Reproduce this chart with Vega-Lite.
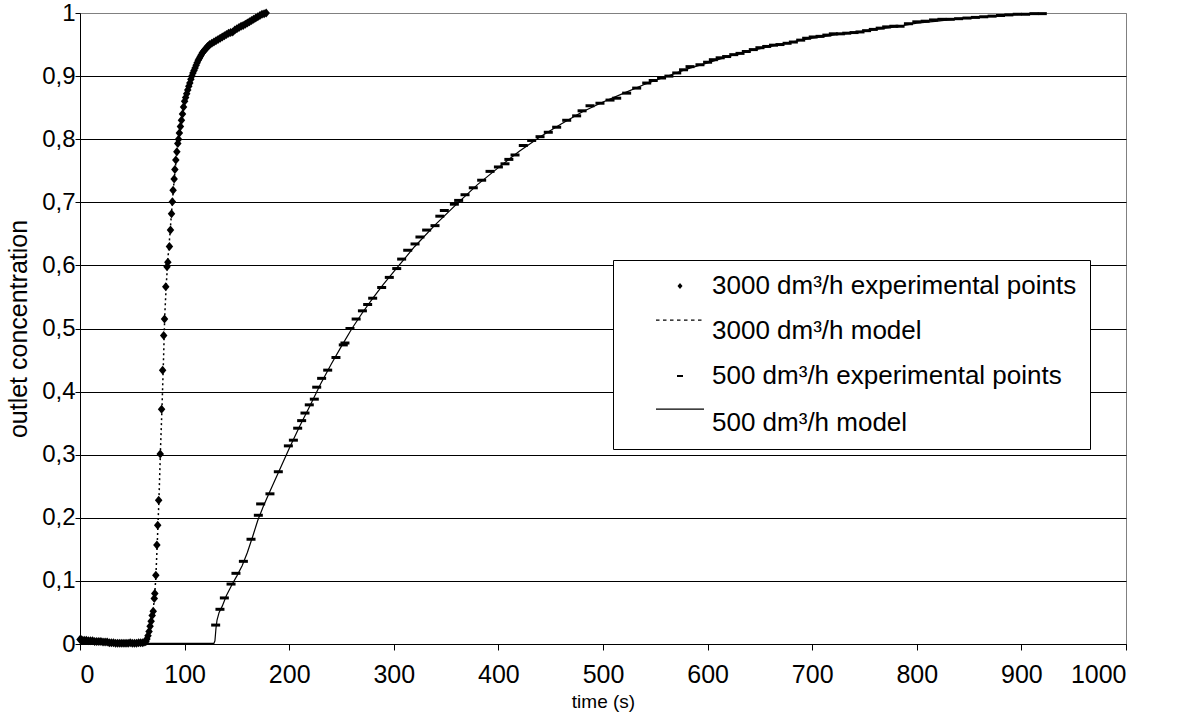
{
  "$schema": "https://vega.github.io/schema/vega-lite/v6.json",
  "width": 1046,
  "height": 631,
  "autosize": {"type": "none"},
  "padding": {"left": 80, "top": 13, "right": 52, "bottom": 75},
  "background": "white",
  "config": {
    "font": "Liberation Sans",
    "view": {"stroke": "#808080", "strokeWidth": 1}
  },
  "datasets": {
    "exp": [
      {"series":"3000 exp","time":0,"conc":0.007},{"series":"3000 exp","time":1,"conc":0.007},{"series":"3000 exp","time":2,"conc":0.006},{"series":"3000 exp","time":4,"conc":0.006},{"series":"3000 exp","time":6,"conc":0.006},{"series":"3000 exp","time":8,"conc":0.005},{"series":"3000 exp","time":10,"conc":0.005},{"series":"3000 exp","time":12,"conc":0.005},{"series":"3000 exp","time":14,"conc":0.004},{"series":"3000 exp","time":16,"conc":0.004},{"series":"3000 exp","time":18,"conc":0.004},{"series":"3000 exp","time":20,"conc":0.004},{"series":"3000 exp","time":22,"conc":0.003},{"series":"3000 exp","time":24,"conc":0.003},{"series":"3000 exp","time":26,"conc":0.003},{"series":"3000 exp","time":28,"conc":0.002},{"series":"3000 exp","time":30,"conc":0.002},{"series":"3000 exp","time":32,"conc":0.002},{"series":"3000 exp","time":34,"conc":0.001},{"series":"3000 exp","time":36,"conc":0.001},{"series":"3000 exp","time":38,"conc":0.001},{"series":"3000 exp","time":40,"conc":0.001},{"series":"3000 exp","time":42,"conc":0.001},{"series":"3000 exp","time":44,"conc":0.001},{"series":"3000 exp","time":46,"conc":0.001},{"series":"3000 exp","time":48,"conc":0.002},{"series":"3000 exp","time":50,"conc":0.001},{"series":"3000 exp","time":52,"conc":0.001},{"series":"3000 exp","time":54,"conc":0.001},{"series":"3000 exp","time":56,"conc":0.002},{"series":"3000 exp","time":58,"conc":0.002},{"series":"3000 exp","time":60,"conc":0.002},{"series":"3000 exp","time":62,"conc":0.003},{"series":"3000 exp","time":63,"conc":0.004},{"series":"3000 exp","time":64,"conc":0.008},{"series":"3000 exp","time":65,"conc":0.013},{"series":"3000 exp","time":66,"conc":0.02},{"series":"3000 exp","time":67,"conc":0.028},{"series":"3000 exp","time":68,"conc":0.036},{"series":"3000 exp","time":69,"conc":0.045},{"series":"3000 exp","time":70,"conc":0.052},{"series":"3000 exp","time":71,"conc":0.072},{"series":"3000 exp","time":71.5,"conc":0.08},{"series":"3000 exp","time":72.5,"conc":0.109},{"series":"3000 exp","time":73.5,"conc":0.157},{"series":"3000 exp","time":74.3,"conc":0.188},{"series":"3000 exp","time":75.2,"conc":0.228},{"series":"3000 exp","time":76.7,"conc":0.301},{"series":"3000 exp","time":78,"conc":0.372},{"series":"3000 exp","time":79,"conc":0.434},{"series":"3000 exp","time":80,"conc":0.489},{"series":"3000 exp","time":80.8,"conc":0.515},{"series":"3000 exp","time":82,"conc":0.566},{"series":"3000 exp","time":83.2,"conc":0.598},{"series":"3000 exp","time":84,"conc":0.605},{"series":"3000 exp","time":85.5,"conc":0.63},{"series":"3000 exp","time":86.5,"conc":0.656},{"series":"3000 exp","time":87.5,"conc":0.682},{"series":"3000 exp","time":88.3,"conc":0.701},{"series":"3000 exp","time":89,"conc":0.719},{"series":"3000 exp","time":90,"conc":0.737},{"series":"3000 exp","time":90.7,"conc":0.752},{"series":"3000 exp","time":91.6,"conc":0.767},{"series":"3000 exp","time":92.6,"conc":0.78},{"series":"3000 exp","time":93.5,"conc":0.793},{"series":"3000 exp","time":94.2,"conc":0.8},{"series":"3000 exp","time":95,"conc":0.81},{"series":"3000 exp","time":96,"conc":0.82},{"series":"3000 exp","time":97,"conc":0.83},{"series":"3000 exp","time":98,"conc":0.84},{"series":"3000 exp","time":99,"conc":0.851},{"series":"3000 exp","time":100,"conc":0.86},{"series":"3000 exp","time":101,"conc":0.866},{"series":"3000 exp","time":102,"conc":0.872},{"series":"3000 exp","time":103,"conc":0.878},{"series":"3000 exp","time":104,"conc":0.884},{"series":"3000 exp","time":105,"conc":0.889},{"series":"3000 exp","time":106,"conc":0.895},{"series":"3000 exp","time":107,"conc":0.9},{"series":"3000 exp","time":108,"conc":0.905},{"series":"3000 exp","time":109,"conc":0.909},{"series":"3000 exp","time":110,"conc":0.913},{"series":"3000 exp","time":111,"conc":0.917},{"series":"3000 exp","time":112,"conc":0.921},{"series":"3000 exp","time":113,"conc":0.925},{"series":"3000 exp","time":114,"conc":0.928},{"series":"3000 exp","time":115,"conc":0.931},{"series":"3000 exp","time":116,"conc":0.934},{"series":"3000 exp","time":117,"conc":0.937},{"series":"3000 exp","time":118,"conc":0.939},{"series":"3000 exp","time":119,"conc":0.941},{"series":"3000 exp","time":120,"conc":0.943},{"series":"3000 exp","time":121,"conc":0.945},{"series":"3000 exp","time":122,"conc":0.947},{"series":"3000 exp","time":123,"conc":0.948},{"series":"3000 exp","time":124,"conc":0.95},{"series":"3000 exp","time":126,"conc":0.952},{"series":"3000 exp","time":128,"conc":0.954},{"series":"3000 exp","time":130,"conc":0.956},{"series":"3000 exp","time":132,"conc":0.958},{"series":"3000 exp","time":134,"conc":0.96},{"series":"3000 exp","time":136,"conc":0.962},{"series":"3000 exp","time":138,"conc":0.964},{"series":"3000 exp","time":140,"conc":0.966},{"series":"3000 exp","time":142,"conc":0.968},{"series":"3000 exp","time":144,"conc":0.969},{"series":"3000 exp","time":146,"conc":0.97},{"series":"3000 exp","time":148,"conc":0.973},{"series":"3000 exp","time":150,"conc":0.975},{"series":"3000 exp","time":152,"conc":0.977},{"series":"3000 exp","time":154,"conc":0.979},{"series":"3000 exp","time":156,"conc":0.98},{"series":"3000 exp","time":158,"conc":0.982},{"series":"3000 exp","time":160,"conc":0.984},{"series":"3000 exp","time":162,"conc":0.986},{"series":"3000 exp","time":164,"conc":0.988},{"series":"3000 exp","time":166,"conc":0.99},{"series":"3000 exp","time":168,"conc":0.992},{"series":"3000 exp","time":170,"conc":0.994},{"series":"3000 exp","time":172,"conc":0.996},{"series":"3000 exp","time":174,"conc":0.998},{"series":"3000 exp","time":176,"conc":0.999},{"series":"3000 exp","time":178,"conc":1.0},
      {"series":"500 exp","time":129.7,"conc":0.03},{"series":"500 exp","time":133.8,"conc":0.055},{"series":"500 exp","time":138,"conc":0.073},{"series":"500 exp","time":144.4,"conc":0.095},{"series":"500 exp","time":149.1,"conc":0.112},{"series":"500 exp","time":156.2,"conc":0.131},{"series":"500 exp","time":163.5,"conc":0.166},{"series":"500 exp","time":170.5,"conc":0.204},{"series":"500 exp","time":172.7,"conc":0.222},{"series":"500 exp","time":181.6,"conc":0.238},{"series":"500 exp","time":189.6,"conc":0.273},{"series":"500 exp","time":199.2,"conc":0.314},{"series":"500 exp","time":204,"conc":0.323},{"series":"500 exp","time":208.1,"conc":0.342},{"series":"500 exp","time":211.9,"conc":0.354},{"series":"500 exp","time":215.1,"conc":0.366},{"series":"500 exp","time":219.2,"conc":0.379},{"series":"500 exp","time":224,"conc":0.388},{"series":"500 exp","time":226.3,"conc":0.407},{"series":"500 exp","time":231,"conc":0.421},{"series":"500 exp","time":236.8,"conc":0.434},{"series":"500 exp","time":244.7,"conc":0.454},{"series":"500 exp","time":251.7,"conc":0.474},{"series":"500 exp","time":253.3,"conc":0.477},{"series":"500 exp","time":258.1,"conc":0.5},{"series":"500 exp","time":264,"conc":0.515},{"series":"500 exp","time":270,"conc":0.528},{"series":"500 exp","time":275,"conc":0.538},{"series":"500 exp","time":279.8,"conc":0.548},{"series":"500 exp","time":288.4,"conc":0.565},{"series":"500 exp","time":295.7,"conc":0.581},{"series":"500 exp","time":302.8,"conc":0.595},{"series":"500 exp","time":307.5,"conc":0.61},{"series":"500 exp","time":313.3,"conc":0.624},{"series":"500 exp","time":320.3,"conc":0.634},{"series":"500 exp","time":325,"conc":0.645},{"series":"500 exp","time":331.4,"conc":0.656},{"series":"500 exp","time":339.4,"conc":0.663},{"series":"500 exp","time":344,"conc":0.678},{"series":"500 exp","time":348.3,"conc":0.687},{"series":"500 exp","time":357.9,"conc":0.697},{"series":"500 exp","time":362,"conc":0.703},{"series":"500 exp","time":368.1,"conc":0.712},{"series":"500 exp","time":376,"conc":0.723},{"series":"500 exp","time":384,"conc":0.735},{"series":"500 exp","time":392,"conc":0.749},{"series":"500 exp","time":400,"conc":0.756},{"series":"500 exp","time":406.3,"conc":0.761},{"series":"500 exp","time":410,"conc":0.768},{"series":"500 exp","time":415.9,"conc":0.775},{"series":"500 exp","time":423.8,"conc":0.79},{"series":"500 exp","time":431.8,"conc":0.798},{"series":"500 exp","time":439.8,"conc":0.804},{"series":"500 exp","time":447.7,"conc":0.811},{"series":"500 exp","time":455.7,"conc":0.819},{"series":"500 exp","time":465.3,"conc":0.83},{"series":"500 exp","time":474.8,"conc":0.837},{"series":"500 exp","time":480,"conc":0.845},{"series":"500 exp","time":487.6,"conc":0.853},{"series":"500 exp","time":497.1,"conc":0.857},{"series":"500 exp","time":506.7,"conc":0.862},{"series":"500 exp","time":513.1,"conc":0.865},{"series":"500 exp","time":522.6,"conc":0.873},{"series":"500 exp","time":532.2,"conc":0.881},{"series":"500 exp","time":541.8,"conc":0.889},{"series":"500 exp","time":548,"conc":0.893},{"series":"500 exp","time":556,"conc":0.897},{"series":"500 exp","time":563,"conc":0.9},{"series":"500 exp","time":570.5,"conc":0.905},{"series":"500 exp","time":577,"conc":0.91},{"series":"500 exp","time":583.2,"conc":0.915},{"series":"500 exp","time":592.7,"conc":0.918},{"series":"500 exp","time":600,"conc":0.922},{"series":"500 exp","time":605.5,"conc":0.926},{"series":"500 exp","time":612,"conc":0.929},{"series":"500 exp","time":618.2,"conc":0.931},{"series":"500 exp","time":625,"conc":0.934},{"series":"500 exp","time":631,"conc":0.936},{"series":"500 exp","time":637,"conc":0.939},{"series":"500 exp","time":643.7,"conc":0.942},{"series":"500 exp","time":650,"conc":0.945},{"series":"500 exp","time":656.5,"conc":0.947},{"series":"500 exp","time":663,"conc":0.949},{"series":"500 exp","time":669.2,"conc":0.95},{"series":"500 exp","time":676,"conc":0.952},{"series":"500 exp","time":682,"conc":0.954},{"series":"500 exp","time":689,"conc":0.957},{"series":"500 exp","time":694.7,"conc":0.96},{"series":"500 exp","time":701,"conc":0.962},{"series":"500 exp","time":707.5,"conc":0.963},{"series":"500 exp","time":714,"conc":0.965},{"series":"500 exp","time":720.2,"conc":0.967},{"series":"500 exp","time":727,"conc":0.967},{"series":"500 exp","time":733,"conc":0.968},{"series":"500 exp","time":740,"conc":0.969},{"series":"500 exp","time":745.7,"conc":0.97},{"series":"500 exp","time":752,"conc":0.972},{"series":"500 exp","time":758.4,"conc":0.974},{"series":"500 exp","time":765,"conc":0.976},{"series":"500 exp","time":771.2,"conc":0.978},{"series":"500 exp","time":778,"conc":0.979},{"series":"500 exp","time":784,"conc":0.979},{"series":"500 exp","time":792,"conc":0.983},{"series":"500 exp","time":800,"conc":0.986},{"series":"500 exp","time":808,"conc":0.987},{"series":"500 exp","time":816,"conc":0.989},{"series":"500 exp","time":824,"conc":0.99},{"series":"500 exp","time":832,"conc":0.99},{"series":"500 exp","time":840,"conc":0.991},{"series":"500 exp","time":848,"conc":0.992},{"series":"500 exp","time":856,"conc":0.993},{"series":"500 exp","time":864,"conc":0.994},{"series":"500 exp","time":872,"conc":0.995},{"series":"500 exp","time":880,"conc":0.996},{"series":"500 exp","time":888,"conc":0.997},{"series":"500 exp","time":896,"conc":0.998},{"series":"500 exp","time":904,"conc":0.998},{"series":"500 exp","time":912,"conc":0.999},{"series":"500 exp","time":920,"conc":0.999}
    ],
    "model3000": [
      {"time":0,"conc":0},{"time":60,"conc":0},{"time":63,"conc":0.002},{"time":65,"conc":0.008},{"time":67,"conc":0.02},{"time":69,"conc":0.04},{"time":71,"conc":0.07},{"time":72.5,"conc":0.105},{"time":74,"conc":0.165},{"time":75.5,"conc":0.23},{"time":77,"conc":0.31},{"time":78.5,"conc":0.38},{"time":80,"conc":0.46},{"time":81,"conc":0.52},{"time":82.5,"conc":0.57},{"time":84,"conc":0.61},{"time":86,"conc":0.65},{"time":88,"conc":0.695},{"time":90,"conc":0.735},{"time":92,"conc":0.77},{"time":94,"conc":0.8},{"time":98,"conc":0.842},{"time":100,"conc":0.86},{"time":104,"conc":0.884},{"time":108,"conc":0.905},{"time":112,"conc":0.921},{"time":116,"conc":0.934},{"time":120,"conc":0.943},{"time":130,"conc":0.956},{"time":140,"conc":0.966},{"time":150,"conc":0.975},{"time":160,"conc":0.984},{"time":170,"conc":0.994},{"time":178,"conc":1.0}
    ],
    "model500": [
      {"time":0,"conc":0.001},{"time":128,"conc":0.001},{"time":129,"conc":0.005},{"time":130,"conc":0.025},{"time":131,"conc":0.038},{"time":133,"conc":0.05},{"time":136,"conc":0.06},{"time":140,"conc":0.077},{"time":145,"conc":0.093},{"time":150,"conc":0.108},{"time":155,"conc":0.124},{"time":160,"conc":0.145},{"time":165,"conc":0.17},{"time":170,"conc":0.196},{"time":175,"conc":0.217},{"time":180,"conc":0.236},{"time":190,"conc":0.273},{"time":200,"conc":0.31},{"time":210,"conc":0.345},{"time":220,"conc":0.378},{"time":230,"conc":0.412},{"time":240,"conc":0.443},{"time":250,"conc":0.472},{"time":260,"conc":0.5},{"time":270,"conc":0.525},{"time":280,"conc":0.548},{"time":290,"conc":0.57},{"time":300,"conc":0.59},{"time":320,"conc":0.63},{"time":340,"conc":0.665},{"time":360,"conc":0.697},{"time":380,"conc":0.728},{"time":400,"conc":0.755},{"time":420,"conc":0.781},{"time":440,"conc":0.804},{"time":460,"conc":0.824},{"time":480,"conc":0.843},{"time":500,"conc":0.859},{"time":520,"conc":0.873},{"time":540,"conc":0.887},{"time":560,"conc":0.899},{"time":580,"conc":0.911},{"time":600,"conc":0.921},{"time":620,"conc":0.931},{"time":640,"conc":0.94},{"time":660,"conc":0.947},{"time":680,"conc":0.954},{"time":700,"conc":0.96},{"time":720,"conc":0.965},{"time":740,"conc":0.969},{"time":760,"conc":0.974},{"time":780,"conc":0.978},{"time":800,"conc":0.984},{"time":820,"conc":0.987},{"time":840,"conc":0.991},{"time":860,"conc":0.994},{"time":880,"conc":0.996},{"time":900,"conc":0.998},{"time":920,"conc":0.999}
    ]
  },
  "encoding": {
    "x": {
      "field": "time", "type": "quantitative",
      "scale": {"domain": [0, 1000], "nice": false, "zero": false},
      "axis": {
        "values": [0,100,200,300,400,500,600,700,800,900,1000],
        "format": "d",
        "grid": false, "domainColor": "black", "tickColor": "black", "tickSize": 6,
        "labelFontSize": 25, "labelColor": "black", "labelPadding": 12, "labelFont": "Liberation Sans",
        "title": "time (s)", "titleFontSize": 19, "titleFontWeight": "normal", "titleColor": "black",
        "titlePadding": 5, "titleFont": "Liberation Sans"
      }
    },
    "y": {
      "field": "conc", "type": "quantitative",
      "scale": {"domain": [0, 1], "nice": false},
      "axis": {
        "values": [0,0.1,0.2,0.3,0.4,0.5,0.6,0.7,0.8,0.9,1],
        "format": ".1~f",
        "labelExpr": "replace(datum.label, '.', ',')",
        "grid": true,
        "gridColor": {"condition": {"test": "datum.value === 1", "value": "#808080"}, "value": "black"},
        "gridWidth": 1, "gridOpacity": 1,
        "domainColor": "black", "tickColor": "black", "tickSize": 5,
        "labelFontSize": 24, "labelColor": "black", "labelPadding": 0, "labelFont": "Liberation Sans",
        "title": "outlet concentration", "titleFontSize": 25, "titleFontWeight": "normal", "titleColor": "black",
        "titlePadding": 10, "titleFont": "Liberation Sans"
      }
    }
  },
  "layer": [
    {
      "data": {"name": "model500"},
      "mark": {"type": "line", "color": "black", "strokeWidth": 1.2}
    },
    {
      "data": {"name": "model3000"},
      "mark": {"type": "line", "color": "black", "strokeWidth": 1.5, "strokeDash": [2, 3]}
    },
    {
      "data": {"name": "exp"},
      "mark": {"type": "point", "filled": true, "color": "black", "size": 900, "opacity": 1, "strokeWidth": 0},
      "encoding": {
        "shape": {
          "field": "series", "type": "nominal",
          "scale": {
            "domain": ["3000 exp", "3000 model", "500 exp", "500 model"],
            "range": [
              "M0,-0.3L0.25,0L0,0.3L-0.25,0Z",
              "M-2.4,-1.15h0.35v0.12h-0.35Z M-1.7,-1.15h0.35v0.12h-0.35Z M-1,-1.15h0.35v0.12h-0.35Z M-0.3,-1.15h0.35v0.12h-0.35Z M0.4,-1.15h0.35v0.12h-0.35Z M1.1,-1.15h0.35v0.12h-0.35Z M1.8,-1.15h0.35v0.12h-0.35Z",
              "M-0.3,-0.1H0.3V0.1H-0.3Z",
              "M-2.4,-1.45H2.4V-1.33H-2.4Z"
            ]
          },
          "legend": {
            "title": null,
            "orient": "none",
            "legendX": 533,
            "legendY": 247,
            "direction": "vertical",
            "strokeColor": "black",
            "fillColor": "white",
            "padding": 13,
            "symbolSize": 400,
            "symbolOffset": 41,
            "labelOffset": 19,
            "labelFontSize": 26,
            "labelFont": "Liberation Sans",
            "labelColor": "black",
            "labelLimit": 0,
            "rowPadding": 19,
            "symbolFillColor": "black",
            "symbolStrokeColor": "black",
            "symbolStrokeWidth": 0,
            "symbolOpacity": 1,
            "labelExpr": "datum.label === '3000 exp' ? '3000 dm³/h experimental points' : datum.label === '3000 model' ? '3000 dm³/h model' : datum.label === '500 exp' ? '500 dm³/h experimental points' : '500 dm³/h model'"
          }
        }
      }
    }
  ]
}
